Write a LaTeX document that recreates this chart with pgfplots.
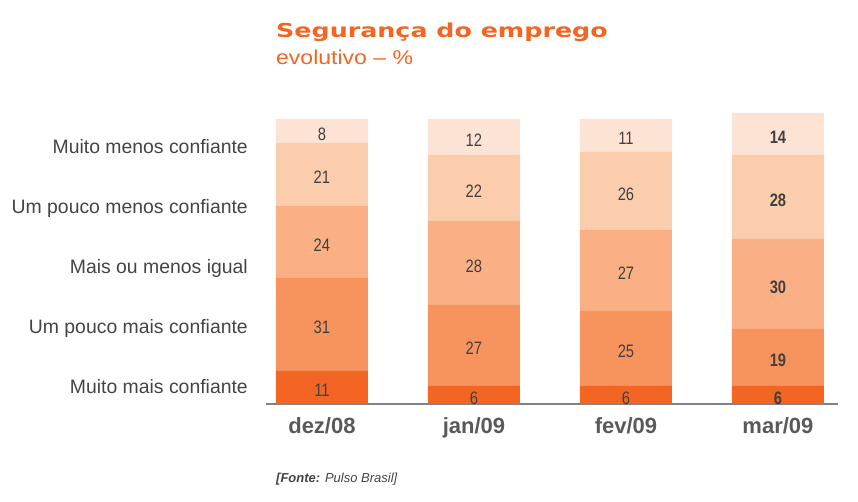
\documentclass[border=0pt]{standalone}
\usepackage{pgfplots}
\pgfplotsset{compat=1.18}
\usepackage{pgfplotstable}
\usepackage{fontspec}
\setmainfont{Liberation Sans}
\newfontfamily\titlefont[FakeStretch=1.32]{DejaVu Sans}
\newfontfamily\subfont[FakeStretch=1.15]{Liberation Sans}
\newfontfamily\numfont[FakeStretch=0.82]{Liberation Sans}
\definecolor{c1}{HTML}{F26522}
\definecolor{c2}{HTML}{F7935D}
\definecolor{c3}{HTML}{FAB084}
\definecolor{c4}{HTML}{FBCDAD}
\definecolor{c5}{HTML}{FDE3D4}
\definecolor{txt}{HTML}{444444}
\definecolor{numc}{HTML}{404040}
\definecolor{tickc}{HTML}{58595B}
\definecolor{axc}{HTML}{808285}
\pgfplotstableread{
x a b c d e
0 11 31 24 21 8
1 6 27 28 22 12
2 6 25 27 26 11
3 6 19 30 28 14
}\datatable
\begin{document}
\begin{tikzpicture}[x=1pt,y=1pt]
\path[use as bounding box] (0,0) rectangle (858,502);
\begin{axis}[
  at={(266pt,98pt)}, anchor=south west,
  scale only axis, width=572pt, height=300pt,
  xmin=-0.368, xmax=3.395, ymin=0, ymax=100,
  ybar stacked, bar width=92pt,
  axis x line*=bottom, axis y line=none,
  axis line style={axc, line width=2pt, -},
  xtick={0,1,2,3}, xticklabels={dez/08,jan/09,fev/09,mar/09},
  major tick length=0pt,
  xticklabel style={font=\bfseries\fontsize{22}{22}\selectfont, text=tickc, anchor=base, yshift=-30pt, inner sep=0pt},
  nodes near coords={\ifdim\xx pt>2.5pt\bfseries\fi\pgfmathprintnumber[fixed,precision=0,assume math mode=true]{\val}},
  every node near coord/.append style={anchor=center, font=\numfont\fontsize{18}{18}\selectfont, text=numc, inner sep=0pt, yshift=-3pt},
  clip=false,
]
\addplot[fill=c1, draw=none, visualization depends on={\thisrow{a}\as\val}, visualization depends on={\thisrow{x}\as\xx}] table[x=x,y=a]{\datatable};
\addplot[fill=c2, draw=none, visualization depends on={\thisrow{b}\as\val}, visualization depends on={\thisrow{x}\as\xx}] table[x=x,y=b]{\datatable};
\addplot[fill=c3, draw=none, visualization depends on={\thisrow{c}\as\val}, visualization depends on={\thisrow{x}\as\xx}] table[x=x,y=c]{\datatable};
\addplot[fill=c4, draw=none, visualization depends on={\thisrow{d}\as\val}, visualization depends on={\thisrow{x}\as\xx}] table[x=x,y=d]{\datatable};
\addplot[fill=c5, draw=none, visualization depends on={\thisrow{e}\as\val}, visualization depends on={\thisrow{x}\as\xx}] table[x=x,y=e]{\datatable};
\end{axis}
\begin{scope}[every node/.style={anchor=base east, inner sep=0pt, font=\fontsize{19.4}{20}\selectfont, text=txt}]
\node at (248,348) {Muito menos confiante};
\node at (248,288) {Um pouco menos confiante};
\node at (248,228) {Mais ou menos igual};
\node at (248,168) {Um pouco mais confiante};
\node at (248,108) {Muito mais confiante};
\end{scope}
\node[anchor=base west, inner sep=0pt, font=\titlefont\bfseries\fontsize{19.2}{20}\selectfont, text=c1] at (276,464) {Segurança do emprego};
\node[anchor=base west, inner sep=0pt, font=\subfont\fontsize{20}{22}\selectfont, text=c1] at (276,437) {evolutivo – \%};
\node[anchor=base west, inner sep=0pt, font=\itshape\fontsize{13}{14}\selectfont, text=txt] at (276,19) {\textbf{[Fonte:} Pulso Brasil]};
\end{tikzpicture}
\end{document}
